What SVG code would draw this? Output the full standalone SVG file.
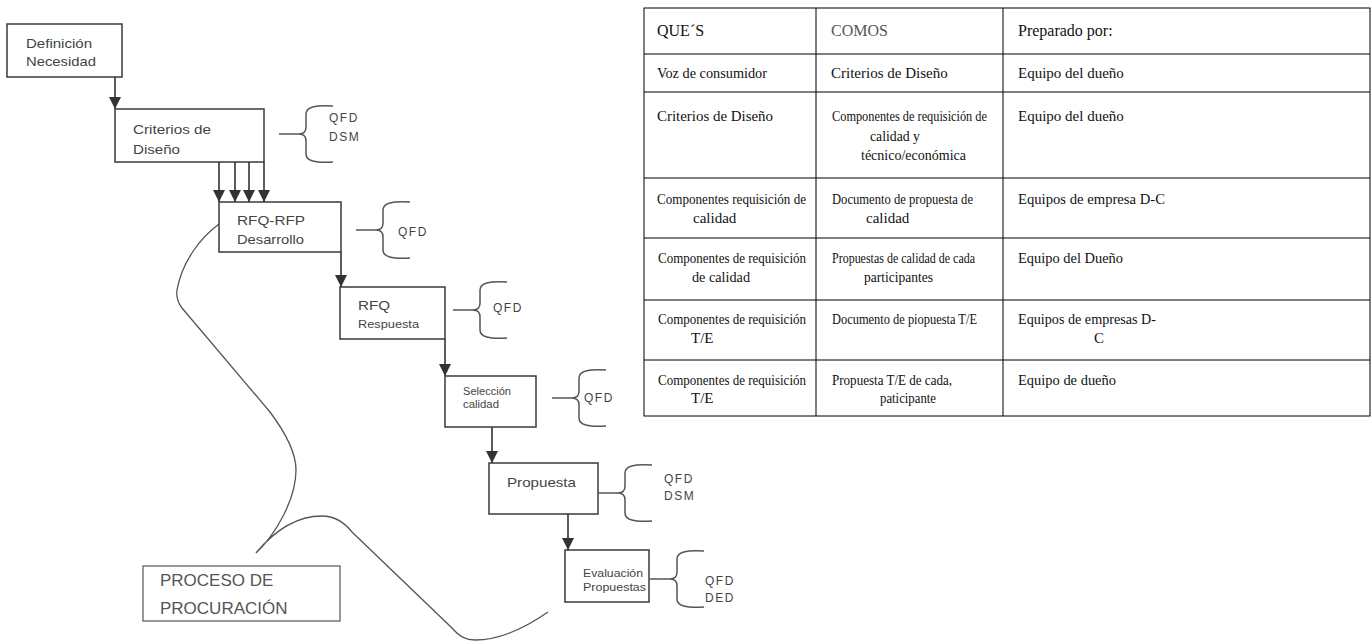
<svg xmlns="http://www.w3.org/2000/svg" width="1372" height="643" viewBox="0 0 1372 643">
<style>
.box{fill:#fff;stroke:#3a3a3a;stroke-width:1.5}
.lbl{font-family:"Liberation Sans",Arial,sans-serif;font-size:13px;fill:#444}
.sm{font-size:10px}
.big{font-family:"Liberation Sans",Arial,sans-serif;font-size:17px;fill:#555}
.br{fill:none;stroke:#555;stroke-width:1.5}
.bt{font-family:"Liberation Sans",Arial,sans-serif;font-size:12px;fill:#444;letter-spacing:1.5px}
.ar{stroke:#333;stroke-width:1.6;fill:none}
.cur{fill:none;stroke:#555;stroke-width:1.3}
.tl{stroke:#000;stroke-width:1;fill:none}
.t{font-family:"Liberation Serif","Times New Roman",serif;font-size:15px;fill:#111}
.h{font-size:16px}
</style>
<defs>
<marker id="ah" markerWidth="12" markerHeight="12" refX="10" refY="5" orient="auto" markerUnits="userSpaceOnUse" viewBox="0 0 10 10">
<path d="M0,0 L10,5 L0,10 Z" fill="#333"/>
</marker>
<path id="brace" d="M0,0 L22,0 M54,-28 C36,-29 27,-27 27,-20 L27,-7 C27,-2 24,0 20,0 C24,0 27,2 27,7 L27,20 C27,27 36,29 54,28"/>
</defs>

<g id="curve">
<path class="cur" d="M219,224 C200,238 182,262 177,290 C176,298 178,303 182,308 L270,412 C285,432 296,452 296,470 C296,500 275,535 256,553 C275,530 298,516 322,516 C335,516 344,522 352,532 L452,628 C460,637 466,640 475,640 C500,640 525,628 548,612"/>
</g>

<g id="connectors">
<line class="ar" x1="115" y1="77" x2="115" y2="109" marker-end="url(#ah)"/>
<line class="ar" x1="219" y1="162" x2="219" y2="202" marker-end="url(#ah)"/>
<line class="ar" x1="235" y1="162" x2="235" y2="202" marker-end="url(#ah)"/>
<line class="ar" x1="249" y1="162" x2="249" y2="202" marker-end="url(#ah)"/>
<line class="ar" x1="264" y1="162" x2="264" y2="202" marker-end="url(#ah)"/>
<line class="ar" x1="341" y1="252" x2="341" y2="287" marker-end="url(#ah)"/>
<line class="ar" x1="445" y1="339" x2="445" y2="376" marker-end="url(#ah)"/>
<line class="ar" x1="492" y1="427" x2="492" y2="463" marker-end="url(#ah)"/>
<line class="ar" x1="568" y1="514" x2="568" y2="550" marker-end="url(#ah)"/>
</g>

<g id="n-definicion">
<rect class="box" x="7" y="24" width="115" height="53"/>
<text class="lbl" x="26" y="48" textLength="66" lengthAdjust="spacingAndGlyphs">Definición</text>
<text class="lbl" x="26" y="66" textLength="70" lengthAdjust="spacingAndGlyphs">Necesidad</text>
</g>

<g id="n-criterios">
<rect class="box" x="115" y="109" width="149" height="53"/>
<text class="lbl" x="133" y="134" textLength="78" lengthAdjust="spacingAndGlyphs">Criterios de</text>
<text class="lbl" x="133" y="154" textLength="47" lengthAdjust="spacingAndGlyphs">Diseño</text>
<use href="#brace" class="br" x="279" y="134"/>
<text class="bt" x="329" y="122">QFD</text>
<text class="bt" x="329" y="141">DSM</text>
</g>

<g id="n-rfqrfp">
<rect class="box" x="219" y="202" width="122" height="50"/>
<text class="lbl" x="237" y="225" textLength="68" lengthAdjust="spacingAndGlyphs">RFQ-RFP</text>
<text class="lbl" x="237" y="244" textLength="67" lengthAdjust="spacingAndGlyphs">Desarrollo</text>
<use href="#brace" class="br" x="356" y="230"/>
<text class="bt" x="398" y="236">QFD</text>
</g>

<g id="n-rfq">
<rect class="box" x="340" y="287" width="105" height="52"/>
<text class="lbl" x="358" y="310" textLength="32" lengthAdjust="spacingAndGlyphs">RFQ</text>
<text class="lbl sm" x="358" y="328" textLength="61" lengthAdjust="spacingAndGlyphs">Respuesta</text>
<use href="#brace" class="br" x="453" y="310"/>
<text class="bt" x="493" y="312">QFD</text>
</g>

<g id="n-seleccion">
<rect class="box" x="445" y="376" width="91" height="51"/>
<text class="lbl sm" x="463" y="395" textLength="48" lengthAdjust="spacingAndGlyphs">Selección</text>
<text class="lbl sm" x="463" y="408" textLength="36" lengthAdjust="spacingAndGlyphs">calidad</text>
<use href="#brace" class="br" x="552" y="398"/>
<text class="bt" x="584" y="402">QFD</text>
</g>

<g id="n-propuesta">
<rect class="box" x="489" y="463" width="109" height="51"/>
<text class="lbl" x="507" y="487" textLength="69" lengthAdjust="spacingAndGlyphs">Propuesta</text>
<use href="#brace" class="br" x="598" y="493"/>
<text class="bt" x="664" y="483">QFD</text>
<text class="bt" x="664" y="500">DSM</text>
</g>

<g id="n-evaluacion">
<rect class="box" x="565" y="550" width="84" height="52"/>
<text class="lbl sm" x="583" y="577" textLength="60" lengthAdjust="spacingAndGlyphs">Evaluación</text>
<text class="lbl sm" x="583" y="591" textLength="63" lengthAdjust="spacingAndGlyphs">Propuestas</text>
<use href="#brace" class="br" x="650" y="579"/>
<text class="bt" x="705" y="585">QFD</text>
<text class="bt" x="705" y="602">DED</text>
</g>

<g id="n-proceso">
<rect class="box" x="143" y="566" width="197" height="55" style="stroke:#555;stroke-width:1.2"/>
<text class="big" x="160" y="586">PROCESO DE</text>
<text class="big" x="160" y="614">PROCURACIÓN</text>
</g>

<g id="table">
<rect class="tl" x="644" y="8" width="726" height="408"/>
<line class="tl" x1="816" y1="8" x2="816" y2="416"/>
<line class="tl" x1="1003" y1="8" x2="1003" y2="416"/>
<line class="tl" x1="644" y1="54" x2="1370" y2="54"/>
<line class="tl" x1="644" y1="92" x2="1370" y2="92"/>
<line class="tl" x1="644" y1="178" x2="1370" y2="178"/>
<line class="tl" x1="644" y1="238" x2="1370" y2="238"/>
<line class="tl" x1="644" y1="300" x2="1370" y2="300"/>
<line class="tl" x1="644" y1="360" x2="1370" y2="360"/>

<text class="t h" x="657" y="36">QUE´S</text>
<text class="t h" x="831" y="36" style="fill:#555">COMOS</text>
<text class="t h" x="1018" y="36">Preparado por:</text>

<text class="t" x="657" y="78" textLength="110" lengthAdjust="spacingAndGlyphs">Voz de consumidor</text>
<text class="t" x="831" y="78">Criterios de Diseño</text>
<text class="t" x="1018" y="78">Equipo del dueño</text>

<text class="t" x="657" y="121" textLength="116" lengthAdjust="spacingAndGlyphs">Criterios de Diseño</text>
<text class="t" x="832" y="121" textLength="155" lengthAdjust="spacingAndGlyphs">Componentes de requisición de</text>
<text class="t" x="870" y="141" textLength="50" lengthAdjust="spacingAndGlyphs">calidad y</text>
<text class="t" x="861" y="160" textLength="105" lengthAdjust="spacingAndGlyphs">técnico/económica</text>
<text class="t" x="1018" y="121">Equipo del dueño</text>

<text class="t" x="657" y="204" textLength="149" lengthAdjust="spacingAndGlyphs">Componentes requisición de</text>
<text class="t" x="693" y="223">calidad</text>
<text class="t" x="832" y="204" textLength="141" lengthAdjust="spacingAndGlyphs">Documento de propuesta de</text>
<text class="t" x="866" y="223">calidad</text>
<text class="t" x="1018" y="204" textLength="147" lengthAdjust="spacingAndGlyphs">Equipos de empresa D-C</text>

<text class="t" x="658" y="263" textLength="148" lengthAdjust="spacingAndGlyphs">Componentes de requisición</text>
<text class="t" x="692" y="282" textLength="58" lengthAdjust="spacingAndGlyphs">de calidad</text>
<text class="t" x="832" y="263" textLength="143" lengthAdjust="spacingAndGlyphs">Propuestas de calidad de cada</text>
<text class="t" x="864" y="282" textLength="69" lengthAdjust="spacingAndGlyphs">participantes</text>
<text class="t" x="1018" y="263" textLength="105" lengthAdjust="spacingAndGlyphs">Equipo del Dueño</text>

<text class="t" x="658" y="324" textLength="148" lengthAdjust="spacingAndGlyphs">Componentes de requisición</text>
<text class="t" x="691" y="343">T/E</text>
<text class="t" x="832" y="324" textLength="145" lengthAdjust="spacingAndGlyphs">Documento de piopuesta T/E</text>
<text class="t" x="1018" y="324" textLength="138" lengthAdjust="spacingAndGlyphs">Equipos de empresas D-</text>
<text class="t" x="1094" y="343">C</text>

<text class="t" x="658" y="385" textLength="148" lengthAdjust="spacingAndGlyphs">Componentes de requisición</text>
<text class="t" x="691" y="403">T/E</text>
<text class="t" x="832" y="385" textLength="120" lengthAdjust="spacingAndGlyphs">Propuesta T/E de cada,</text>
<text class="t" x="880" y="403" textLength="56" lengthAdjust="spacingAndGlyphs">paticipante</text>
<text class="t" x="1018" y="385" textLength="98" lengthAdjust="spacingAndGlyphs">Equipo de dueño</text>
</g>
</svg>
